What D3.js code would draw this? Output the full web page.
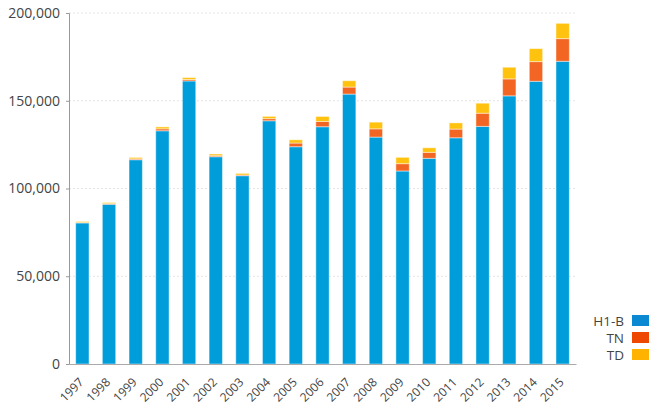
<!DOCTYPE html>
<html>
<head>
<meta charset="utf-8">
<script src="https://cdn.jsdelivr.net/npm/d3@7"></script>
<style>
  body { margin: 0; background: #fff; }
  svg text { font-family: "Open Sans", sans-serif; fill: #444; }
</style>
</head>
<body>
<div class="chart-container"></div>
<script>
// --- Data ---
var years = ["1997", "1998", "1999", "2000", "2001", "2002", "2003", "2004", "2005", "2006",
    "2007", "2008", "2009", "2010", "2011", "2012", "2013", "2014", "2015"];
var h1b = [80400, 91000, 116400, 132900, 161300, 118100, 107300, 138600, 123800, 135200,
    153800, 129300, 110000, 117200, 128900, 135400, 152800, 161100, 172500];
var tn = [200, 400, 500, 1100, 800, 600, 400, 1200, 2100, 3000,
    4000, 4700, 4150, 3400, 4950, 7500, 9650, 11200, 12900];
var td = [600, 600, 800, 1100, 1100, 950, 900, 1300, 1850, 2850,
    3600, 3800, 3600, 2600, 3550, 5700, 6650, 7400, 8700];
var seriesNames = ["H1-B", "TN", "TD"];
var yTicks = [0, 50000, 100000, 150000, 200000];

// --- Config ---
const w = 658;
const h = 413;
const plotLeft = 69, plotRight = 576, plotTop = 13, plotBottom = 364;
var barColors = ["#009ddb", "#f26522", "#ffc20e"];
var legendColors = ["#0a88d2", "#ee4700", "#ffb300"];

var rows = years.map(function (y, i) {
    return { year: y, "H1-B": h1b[i], "TN": tn[i], "TD": td[i] };
});
var stacked = d3.stack().keys(seriesNames)(rows);

var xScale = d3.scaleBand()
    .domain(years)
    .range([plotLeft, plotRight])
    .paddingInner(0.5)
    .paddingOuter(0.25);

var yScale = d3.scaleLinear()
    .domain([0, 200000])
    .range([plotBottom, plotTop]);

var svg = d3.select(".chart-container")
    .append("svg")
    .attr("width", w)
    .attr("height", h);

// gridlines
svg.append("g")
    .selectAll("line")
    .data(yTicks.slice(1))
    .enter()
    .append("line")
    .attr("x1", plotLeft)
    .attr("x2", plotRight)
    .attr("y1", function (d) { return yScale(d); })
    .attr("y2", function (d) { return yScale(d); })
    .attr("stroke", "#e4e4e4")
    .attr("stroke-dasharray", "2,2");

// bars
svg.append("g")
    .selectAll("g")
    .data(stacked)
    .enter()
    .append("g")
    .attr("fill", function (d, i) { return barColors[i]; })
    .selectAll("rect")
    .data(function (d) { return d; })
    .enter()
    .append("rect")
    .attr("x", function (d) { return xScale(d.data.year); })
    .attr("y", function (d) { return yScale(d[1]); })
    .attr("width", xScale.bandwidth())
    .attr("height", function (d) { return yScale(d[0]) - yScale(d[1]); })
    .attr("stroke", "rgba(255,255,255,0.45)")
    .attr("stroke-width", 1);

// y axis
var yAxis = svg.append("g")
    .attr("transform", "translate(" + plotLeft + ",0)")
    .call(d3.axisLeft(yScale).tickValues(yTicks).tickFormat(d3.format(",")).tickSize(3).tickPadding(6));
yAxis.select(".domain").attr("stroke", "#999");
yAxis.selectAll(".tick line").attr("stroke", "#999");
yAxis.selectAll("text").attr("font-size", "14px").attr("fill", "#444");

// x axis
var xAxis = svg.append("g")
    .attr("transform", "translate(0," + plotBottom + ")")
    .call(d3.axisBottom(xScale).tickSize(0).tickSizeOuter(0));
xAxis.select(".domain").attr("stroke", "#aaa");
xAxis.selectAll("text")
    .attr("font-size", "12px")
    .attr("fill", "#444")
    .attr("text-anchor", "end")
    .attr("x", 0)
    .attr("y", 0)
    .attr("dy", 0)
    .attr("transform", "translate(2,19) rotate(-45)");

// legend
var legend = svg.append("g")
    .selectAll("g")
    .data(seriesNames)
    .enter()
    .append("g")
    .attr("transform", function (d, i) { return "translate(0," + (315 + i * 17) + ")"; });

legend.append("rect")
    .attr("x", 632)
    .attr("width", 17)
    .attr("height", 11)
    .attr("fill", function (d, i) { return legendColors[i]; });

legend.append("text")
    .attr("x", 624)
    .attr("y", 11)
    .attr("text-anchor", "end")
    .attr("font-size", "13.5px")
    .text(function (d) { return d; });
</script>
</body>
</html>
